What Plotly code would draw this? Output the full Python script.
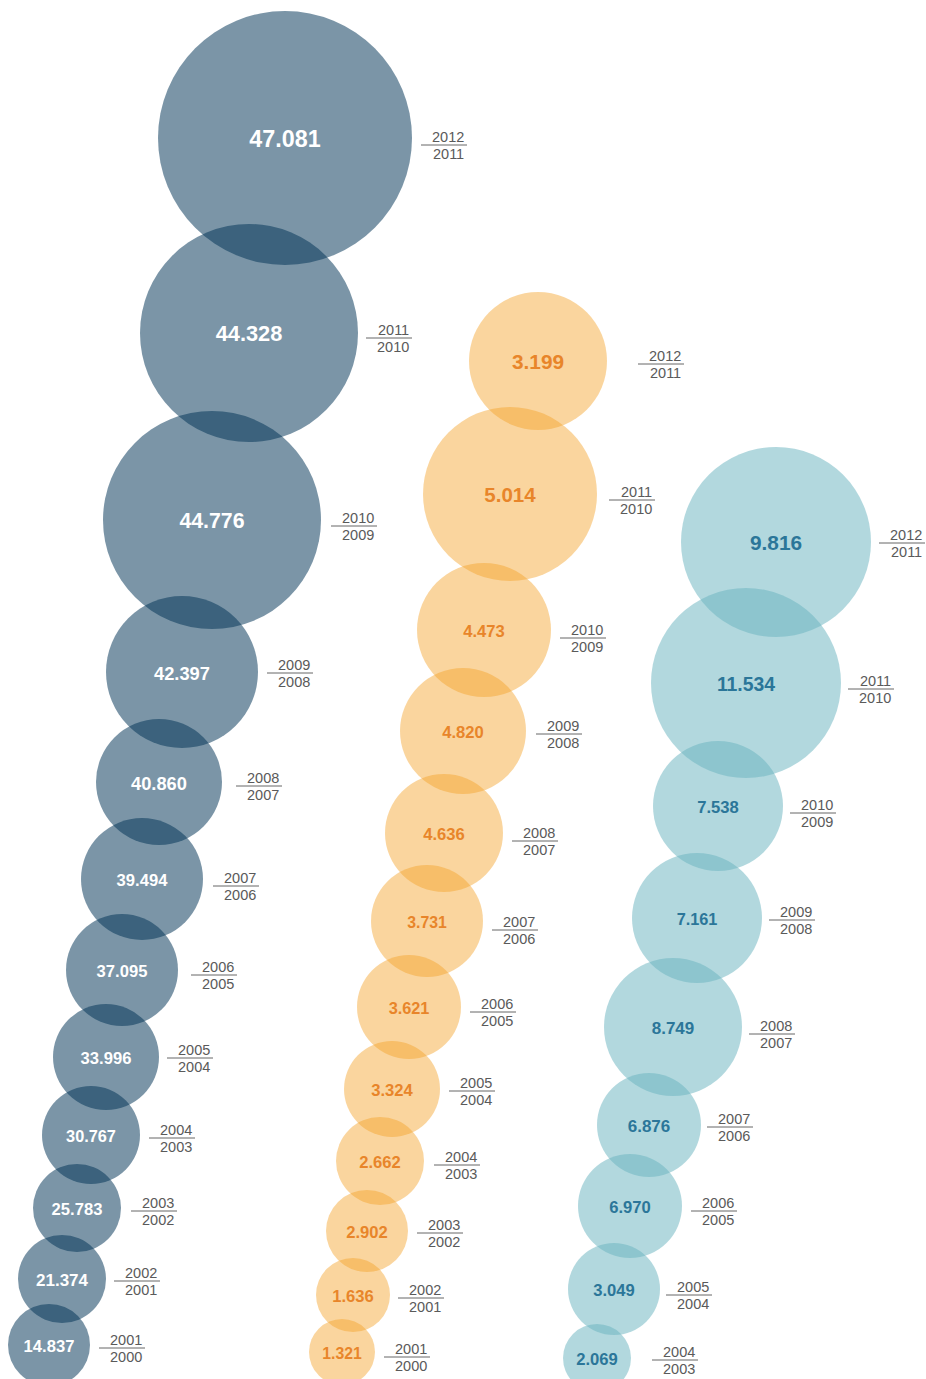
import plotly.graph_objects as go

W, H = 926, 1379

# ---------- data (oldest -> newest) ----------
left_periods = ["2000/2001", "2001/2002", "2002/2003", "2003/2004", "2004/2005", "2005/2006",
                "2006/2007", "2007/2008", "2008/2009", "2009/2010", "2010/2011", "2011/2012"]
left_values = [14837, 21374, 25783, 30767, 33996, 37095, 39494, 40860, 42397, 44776, 44328, 47081]
left_bubble_radius = [41, 44, 44, 49, 53, 56, 61, 63, 76, 109, 109, 127]

mid_periods = ["2000/2001", "2001/2002", "2002/2003", "2003/2004", "2004/2005", "2005/2006",
               "2006/2007", "2007/2008", "2008/2009", "2009/2010", "2010/2011", "2011/2012"]
mid_values = [1321, 1636, 2902, 2662, 3324, 3621, 3731, 4636, 4820, 4473, 5014, 3199]
mid_bubble_radius = [33, 37, 41, 44, 48, 52, 56, 59, 63, 67, 87, 69]

right_periods = ["2003/2004", "2004/2005", "2005/2006", "2006/2007", "2007/2008", "2008/2009",
                 "2009/2010", "2010/2011", "2011/2012"]
right_values = [2069, 3049, 6970, 6876, 8749, 7161, 7538, 11534, 9816]
right_bubble_radius = [34, 46, 52, 52, 69, 65, 65, 95, 95]

# ---------- layout (positions in the chart's pixel-like axis units) ----------
left_cx = [49, 62, 77, 91, 106, 122, 142, 159, 182, 212, 249, 285]
left_cy = [1345, 1279, 1208, 1135, 1057, 970, 879, 782, 672, 520, 333, 138]
left_lab_x = [99, 114, 131, 149, 167, 191, 213, 236, 267, 331, 366, 421]
left_lab_y = [1348, 1281, 1211, 1138, 1058, 975, 886, 786, 673, 526, 338, 145]
left_font = [16.6, 17, 16.6, 16.3, 16.6, 16.6, 16.6, 18.3, 18.3, 21.3, 21.8, 23.3]

mid_cx = [342, 353, 367, 380, 392, 409, 427, 444, 463, 484, 510, 538]
mid_cy = [1352, 1295, 1231, 1161, 1089, 1007, 921, 833, 731, 630, 494, 361]
mid_lab_x = [384, 398, 417, 434, 449, 470, 492, 512, 536, 560, 609, 638]
mid_lab_y = [1357, 1298, 1233, 1165, 1091, 1012, 930, 841, 734, 638, 500, 364]
mid_font = [15.8, 16.6, 16.6, 16.6, 16.6, 16.3, 15.8, 16.6, 16.6, 16.6, 20.5, 20.8]

right_cx = [597, 614, 630, 649, 673, 697, 718, 746, 776]
right_cy = [1358, 1289, 1206, 1125, 1027, 918, 806, 683, 542]
right_lab_x = [652, 666, 691, 707, 749, 769, 790, 848, 879]
right_lab_y = [1360, 1295, 1211, 1127, 1034, 920, 813, 689, 543]
right_font = [16.6, 16.6, 16.6, 17, 17, 16.3, 16.6, 19.4, 20.8]

FONT = "Liberation Sans, Arial, sans-serif"
YEAR_FONT = "Liberation Sans, Arial, sans-serif"
LINE_LEN = 46
TEXT_DY = 3


def fmt(v):
    return f"{v:,}".replace(",", ".")


columns = [
    dict(periods=left_periods, values=left_values, rad=left_bubble_radius, cx=left_cx, cy=left_cy,
         lx=left_lab_x, ly=left_lab_y, fs=left_font,
         fill="rgba(2,52,86,0.52)", text_color="#ffffff"),
    dict(periods=mid_periods, values=mid_values, rad=mid_bubble_radius, cx=mid_cx, cy=mid_cy,
         lx=mid_lab_x, ly=mid_lab_y, fs=mid_font,
         fill="rgba(243,161,40,0.45)", text_color="#e8852a"),
    dict(periods=right_periods, values=right_values, rad=right_bubble_radius, cx=right_cx, cy=right_cy,
         lx=right_lab_x, ly=right_lab_y, fs=right_font,
         fill="rgba(107,180,192,0.52)", text_color="#2b7699"),
]

fig = go.Figure()
annotations = []
shapes = []

for col in columns:
    fig.add_trace(go.Scatter(
        x=col["cx"], y=col["cy"],
        mode="markers",
        marker=dict(size=[2 * r for r in col["rad"]], sizemode="diameter", opacity=1,
                    color=col["fill"], line=dict(width=0)),
        hoverinfo="skip",
        showlegend=False,
    ))

for col in columns:
    fig.add_trace(go.Scatter(
        x=col["cx"], y=[c + TEXT_DY for c in col["cy"]],
        mode="text",
        text=[fmt(v) for v in col["values"]],
        textposition="middle center",
        textfont=dict(family=FONT, size=col["fs"], color=col["text_color"], weight="bold"),
        hoverinfo="skip",
        showlegend=False,
    ))
    for per, lx, ly in zip(col["periods"], col["lx"], col["ly"]):
        y0, y1 = per.split("/")
        shapes.append(dict(type="line", xref="x", yref="y", x0=lx, x1=lx + LINE_LEN, y0=ly, y1=ly,
                           line=dict(color="#666666", width=1)))
        annotations.append(dict(x=lx + LINE_LEN - 1, y=ly, xref="x", yref="y", text=y1,
                                showarrow=False, xanchor="right", yanchor="bottom",
                                font=dict(family=YEAR_FONT, size=14.5, color="#5a5a5a"), yshift=-2))
        annotations.append(dict(x=lx + LINE_LEN - 1, y=ly, xref="x", yref="y", text=y0,
                                showarrow=False, xanchor="right", yanchor="top",
                                font=dict(family=YEAR_FONT, size=14.5, color="#5a5a5a"), yshift=1))

fig.update_layout(
    width=W, height=H,
    margin=dict(l=0, r=0, t=0, b=0),
    paper_bgcolor="white", plot_bgcolor="white",
    xaxis=dict(range=[0, W], visible=False, fixedrange=True),
    yaxis=dict(range=[H, 0], visible=False, fixedrange=True),
    shapes=shapes,
    annotations=annotations,
)

fig.write_html(
    "out.html",
    config={"displayModeBar": False},
    post_script="document.body.style.margin='0';document.body.style.overflow='hidden';",
)
